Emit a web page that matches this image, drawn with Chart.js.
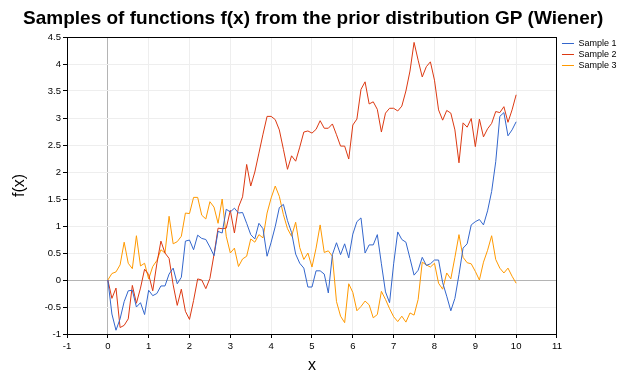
<!DOCTYPE html>
<html><head><meta charset="utf-8">
<script src="https://cdn.jsdelivr.net/npm/chart.js@4/dist/chart.umd.min.js"></script>
<style>html,body{margin:0;padding:0;background:#fff}#wrap{width:640px;height:379px;position:relative}</style>
</head><body><div id="wrap"><canvas id="c"></canvas></div>
<script>
const xValues = [0,0.1,0.2,0.3,0.4,0.5,0.6,0.7,0.8,0.9,
1,1.1,1.2,1.3,1.4,1.5,1.6,1.7,1.8,1.9,
2,2.1,2.2,2.3,2.4,2.5,2.6,2.7,2.8,2.9,
3,3.1,3.2,3.3,3.4,3.5,3.6,3.7,3.8,3.9,
4,4.1,4.2,4.3,4.4,4.5,4.6,4.7,4.8,4.9,
5,5.1,5.2,5.3,5.4,5.5,5.6,5.7,5.8,5.9,
6,6.1,6.2,6.3,6.4,6.5,6.6,6.7,6.8,6.9,
7,7.1,7.2,7.3,7.4,7.5,7.6,7.7,7.8,7.9,
8,8.1,8.2,8.3,8.4,8.5,8.6,8.7,8.8,8.9,
9,9.1,9.2,9.3,9.4,9.5,9.6,9.7,9.8,9.9,
10];
const sample1 = [0,-0.63,-0.93,-0.72,-0.4,-0.2,-0.19,-0.5,-0.42,-0.64,
-0.19,-0.29,-0.25,-0.11,-0.11,0.11,0.22,-0.07,0.05,0.72,
0.74,0.56,0.83,0.77,0.75,0.61,0.45,0.9,0.87,1.31,
1.26,1.33,1.24,1.25,1.05,0.84,0.76,1.05,0.95,0.44,
0.7,0.99,1.34,1.4,1.1,0.88,0.48,0.31,0.22,-0.13,
-0.13,0.17,0.17,0.11,-0.24,0.47,0.69,0.47,0.67,0.41,
0.85,1.08,1.15,0.5,0.65,0.65,0.84,0.3,-0.22,-0.42,
0.3,0.89,0.75,0.7,0.4,0.09,0.18,0.42,0.27,0.3,
0.37,0.37,-0.05,-0.3,-0.57,-0.34,0.1,0.59,0.67,1.02,
1.08,1.12,1.02,1.28,1.64,2.19,3.03,3.1,2.67,2.78,
2.93];
const sample2 = [0,-0.34,-0.15,-0.88,-0.84,-0.72,-0.1,-0.43,-0.15,0.2,
0.1,-0.2,0.3,0.72,0.5,0.4,-0.09,-0.47,-0.17,-0.58,
-0.73,-0.38,0.02,0.0,-0.16,0.03,0.47,0.96,0.95,0.96,
1.29,0.87,1.35,1.54,2.14,1.74,2.0,2.35,2.7,3.03,
3.03,2.97,2.78,2.42,2.05,2.3,2.2,2.46,2.74,2.76,
2.72,2.79,2.95,2.81,2.81,2.89,2.69,2.48,2.48,2.24,
2.87,2.98,3.53,3.67,3.26,3.3,3.16,2.74,3.09,3.18,
3.18,3.13,3.22,3.5,3.87,4.4,4.07,3.76,3.95,4.04,
3.7,3.15,2.96,3.14,3.09,2.78,2.17,2.91,2.83,2.99,
2.47,2.98,2.65,2.8,2.9,3.12,3.1,3.21,2.92,3.15,
3.43];
const sample3 = [0,0.12,0.15,0.28,0.7,0.31,0.21,0.82,0.26,0.31,
0.02,0.25,0.36,0.56,0.5,1.18,0.67,0.71,0.81,1.24,
1.23,1.53,1.53,1.2,1.13,1.45,1.35,1.05,1.5,0.81,
0.5,0.59,0.25,0.39,0.44,0.76,0.7,0.84,0.78,1.24,
1.52,1.74,1.55,1.21,0.95,0.81,1.07,0.6,0.38,0.5,
0.24,0.59,1.02,0.51,0.54,0.44,-0.4,-0.67,-0.79,-0.07,
-0.23,-0.57,-0.49,-0.39,-0.46,-0.7,-0.64,-0.21,-0.36,-0.53,
-0.68,-0.77,-0.67,-0.78,-0.61,-0.65,-0.36,0.33,0.28,0.24,
0.31,-0.06,-0.17,0.13,0.02,0.42,0.84,0.42,0.32,0.3,
0.16,0.0,0.33,0.55,0.82,0.38,0.22,0.13,0.22,0.07,
-0.06];
const seriesNames = ['Sample 1','Sample 2','Sample 3'];
const seriesColors = ['#3366CC','#DC3912','#FF9900'];
const xTickValues = [-1,0,1,2,3,4,5,6,7,8,9,10,11];
const xTickLabels = ['-1','0','1','2','3','4','5','6','7','8','9','10','11'];
const yTickValues = [-1,-0.5,0,0.5,1,1.5,2,2.5,3,3.5,4,4.5];
const yTickLabels = ['-1','-0.5','0','0.5','1','1.5','2','2.5','3','3.5','4','4.5'];
const titleText = 'Samples of functions f(x) from the prior distribution GP (Wiener)';
const xTitle = 'x';
const yTitle = 'f(x)';

Chart.defaults.font.family = 'Arial, "Liberation Sans", sans-serif';
Chart.defaults.color = '#000';

const allSeries = [sample1, sample2, sample3];
const datasets = allSeries.map((vals, k) => ({
  label: seriesNames[k],
  data: vals.map((v, i) => ({x: xValues[i], y: v})),
  borderColor: seriesColors[k],
  backgroundColor: seriesColors[k],
  borderWidth: 1,
  pointRadius: 0,
  tension: 0,
  fill: false
}));

const gridColor = (zeroCol) => (ctx) => (ctx.tick && ctx.tick.value === 0) ? zeroCol : '#eeeeee';

new Chart(document.getElementById('c'), {
  type: 'line',
  data: {datasets},
  options: {
    responsive: true,
    maintainAspectRatio: false,
    animation: false,
    layout: {padding: {top: 0, left: 0, right: 13.5, bottom: 0}},
    plugins: {
      title: {display: true, text: titleText, color: '#000',
        font: {size: 19, weight: 'bold'}, padding: {top: 7, bottom: 7.2}},
      legend: {display: true, position: 'right', align: 'start', fullSize: false,
        labels: {usePointStyle: true, pointStyle: 'line', pointStyleWidth: 12,
          padding: 2, color: '#000', font: {size: 9}}},
      tooltip: {enabled: false}
    },
    scales: {
      x: {type: 'linear', position: 'bottom', min: -1, max: 11,
        afterBuildTicks: (s) => { s.ticks = xTickValues.map(v => ({value: v})); },
        afterFit: (s) => { s.height = 45; },
        ticks: {callback: (v, i) => xTickLabels[i], font: {size: 9.5}, color: '#000', padding: 3, maxRotation: 0, autoSkip: false},
        grid: {color: gridColor('#b4b4b4'), tickColor: '#000', tickLength: 4, drawTicks: true},
        border: {display: true, color: '#000', width: 1},
        title: {display: true, text: xTitle, color: '#000', font: {size: 16}, padding: {top: 3, bottom: 3.4}}
      },
      y: {type: 'linear', position: 'left', min: -1, max: 4.5,
        afterBuildTicks: (s) => { s.ticks = yTickValues.map(v => ({value: v})); },
        afterFit: (s) => { s.width = 67; },
        ticks: {callback: (v, i) => yTickLabels[i], font: {size: 9.5}, color: '#000', padding: 2, autoSkip: false},
        grid: {color: gridColor('#b4b4b4'), tickColor: '#000', tickLength: 4, drawTicks: true},
        border: {display: true, color: '#000', width: 1},
        title: {display: true, text: yTitle, color: '#000', font: {size: 16}, padding: {top: 10, bottom: 0}}
      },
      x2: {type: 'linear', position: 'top', display: true,
        afterFit: (s) => { s.height = 0; },
        ticks: {display: false}, grid: {display: false, drawTicks: false},
        border: {display: true, color: '#000', width: 1}},
      y2: {type: 'linear', position: 'right', display: true,
        afterFit: (s) => { s.width = 3; },
        ticks: {display: false}, grid: {display: false, drawTicks: false},
        border: {display: true, color: '#000', width: 1}}
    }
  }
});
</script>
</body></html>
